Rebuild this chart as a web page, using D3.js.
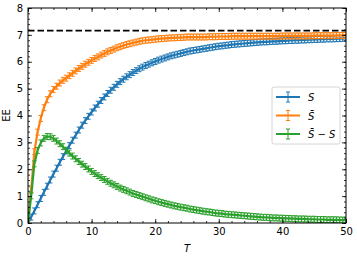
<!DOCTYPE html>
<html>
<head>
<meta charset="utf-8">
<script src="https://cdn.jsdelivr.net/npm/d3@7"></script>
<style>
  body { margin: 0; background: #fff; }
  text { font-family: "DejaVu Sans", sans-serif; }
</style>
</head>
<body>
<div class="chart"></div>
<script>
var svgWidth = 357;
var svgHeight = 257;

var margin = { top: 8, right: 11, bottom: 34, left: 28 };

var width = svgWidth - margin.left - margin.right;
var height = svgHeight - margin.top - margin.bottom;

// time grid (T)
var tValues = [0, 0.5, 1, 1.5, 2, 2.5, 3, 3.5, 4, 4.5, 5, 5.5, 6, 6.5, 7, 7.5, 8, 8.5, 9, 9.5,
  10, 10.5, 11, 11.5, 12, 12.5, 13, 13.5, 14, 14.5, 15, 15.5, 16, 16.5, 17, 17.5, 18, 18.5, 19, 19.5,
  20, 20.5, 21, 21.5, 22, 22.5, 23, 23.5, 24, 24.5, 25, 25.5, 26, 26.5, 27, 27.5, 28, 28.5, 29, 29.5,
  30, 30.5, 31, 31.5, 32, 32.5, 33, 33.5, 34, 34.5, 35, 35.5, 36, 36.5, 37, 37.5, 38, 38.5, 39, 39.5,
  40, 40.5, 41, 41.5, 42, 42.5, 43, 43.5, 44, 44.5, 45, 45.5, 46, 46.5, 47, 47.5, 48, 48.5, 49, 49.5, 50];

// S
var sValues = [0, 0.22, 0.45, 0.68, 0.91, 1.14, 1.37, 1.60, 1.82, 2.04, 2.26, 2.47, 2.68, 2.88, 3.08, 3.27, 3.46, 3.64, 3.81, 3.97,
  4.13, 4.28, 4.42, 4.56, 4.69, 4.82, 4.94, 5.05, 5.16, 5.26, 5.35, 5.44, 5.52, 5.60, 5.67, 5.74, 5.80, 5.86, 5.91, 5.96,
  6.01, 6.06, 6.10, 6.14, 6.18, 6.22, 6.25, 6.28, 6.31, 6.34, 6.37, 6.40, 6.42, 6.44, 6.46, 6.48, 6.50, 6.52, 6.54, 6.56,
  6.58, 6.59, 6.61, 6.62, 6.64, 6.65, 6.66, 6.67, 6.68, 6.69, 6.70, 6.71, 6.72, 6.73, 6.74, 6.74, 6.75, 6.76, 6.76, 6.77,
  6.78, 6.78, 6.79, 6.79, 6.80, 6.80, 6.81, 6.81, 6.82, 6.82, 6.83, 6.83, 6.84, 6.84, 6.85, 6.85, 6.85, 6.86, 6.86, 6.87, 6.87];

// S bar
var sBarValues = [0, 1.23, 2.65, 3.38, 3.89, 4.29, 4.59, 4.81, 4.97, 5.09, 5.21, 5.31, 5.39, 5.48, 5.57, 5.66, 5.75, 5.83, 5.91, 5.98,
  6.05, 6.12, 6.18, 6.25, 6.31, 6.37, 6.42, 6.47, 6.52, 6.56, 6.60, 6.64, 6.67, 6.70, 6.73, 6.76, 6.78, 6.80, 6.81, 6.82,
  6.84, 6.85, 6.86, 6.87, 6.88, 6.89, 6.89, 6.90, 6.90, 6.91, 6.92, 6.92, 6.92, 6.92, 6.92, 6.92, 6.92, 6.93, 6.93, 6.93,
  6.94, 6.94, 6.94, 6.94, 6.95, 6.95, 6.95, 6.95, 6.95, 6.95, 6.95, 6.95, 6.95, 6.95, 6.95, 6.95, 6.95, 6.95, 6.95, 6.95,
  6.96, 6.96, 6.96, 6.96, 6.96, 6.96, 6.96, 6.96, 6.96, 6.96, 6.97, 6.97, 6.97, 6.97, 6.97, 6.97, 6.97, 6.98, 6.98, 6.98, 6.98];

// S bar - S
var diffValues = [0, 1.01, 2.20, 2.70, 2.98, 3.15, 3.22, 3.21, 3.15, 3.05, 2.95, 2.84, 2.71, 2.60, 2.49, 2.39, 2.29, 2.19, 2.10, 2.01,
  1.92, 1.84, 1.76, 1.69, 1.62, 1.55, 1.48, 1.42, 1.36, 1.30, 1.25, 1.20, 1.15, 1.10, 1.06, 1.02, 0.98, 0.94, 0.90, 0.86,
  0.83, 0.79, 0.76, 0.73, 0.70, 0.67, 0.64, 0.62, 0.59, 0.57, 0.55, 0.52, 0.50, 0.48, 0.46, 0.44, 0.42, 0.41, 0.39, 0.37,
  0.36, 0.35, 0.33, 0.32, 0.31, 0.30, 0.29, 0.28, 0.27, 0.26, 0.25, 0.24, 0.23, 0.22, 0.21, 0.21, 0.20, 0.19, 0.19, 0.18,
  0.18, 0.17, 0.17, 0.16, 0.16, 0.15, 0.15, 0.15, 0.14, 0.14, 0.14, 0.13, 0.13, 0.13, 0.12, 0.12, 0.12, 0.12, 0.11, 0.11, 0.11];

var errValue = 0.11;
var limitValue = 7.16;

var xTicks = [0, 10, 20, 30, 40, 50];
var yTicks = [0, 1, 2, 3, 4, 5, 6, 7, 8];

var seriesList = [
  { name: "S", values: sValues, color: "#1f77b4" },
  { name: "Sbar", values: sBarValues, color: "#ff7f0e" },
  { name: "diff", values: diffValues, color: "#2ca02c" }
];

var svg = d3.select(".chart")
  .append("svg")
  .attr("width", svgWidth)
  .attr("height", svgHeight);

var chartGroup = svg.append("g")
  .attr("transform", `translate(${margin.left}, ${margin.top})`);

var xScale = d3.scaleLinear().domain([0, 50]).range([0, width]);
var yScale = d3.scaleLinear().domain([0, 8]).range([height, 0]);

svg.append("defs").append("clipPath")
  .attr("id", "plotClip")
  .append("rect")
  .attr("width", width)
  .attr("height", height);

var plotArea = chartGroup.append("g").attr("clip-path", "url(#plotClip)");

// dashed limit
plotArea.append("line")
  .attr("x1", 0)
  .attr("x2", width)
  .attr("y1", yScale(limitValue))
  .attr("y2", yScale(limitValue))
  .attr("stroke", "#000")
  .attr("stroke-width", 1.8)
  .attr("stroke-dasharray", "6.5,3");

var lineGen = d3.line()
  .x((d, i) => xScale(tValues[i]))
  .y(d => yScale(d));

seriesList.forEach(function(series) {
  var g = plotArea.append("g");

  g.append("path")
    .datum(series.values)
    .attr("fill", "none")
    .attr("stroke", series.color)
    .attr("stroke-width", 2.2)
    .attr("d", lineGen);

  var bars = g.selectAll(".bar")
    .data(series.values)
    .enter()
    .append("g")
    .attr("transform", (d, i) => `translate(${xScale(tValues[i])}, 0)`);

  bars.append("line")
    .attr("y1", d => yScale(d - errValue))
    .attr("y2", d => yScale(d + errValue))
    .attr("stroke", series.color)
    .attr("stroke-width", 1.2);

  bars.append("line")
    .attr("x1", -2.2)
    .attr("x2", 2.2)
    .attr("y1", d => yScale(d - errValue))
    .attr("y2", d => yScale(d - errValue))
    .attr("stroke", series.color)
    .attr("stroke-width", 1);

  bars.append("line")
    .attr("x1", -2.2)
    .attr("x2", 2.2)
    .attr("y1", d => yScale(d + errValue))
    .attr("y2", d => yScale(d + errValue))
    .attr("stroke", series.color)
    .attr("stroke-width", 1);
});

// axes with inward ticks on all sides
var xMinor = d3.range(0, 50.01, 2);
var yMinor = d3.range(0, 8.01, 0.2);

function styleAxis(g) {
  g.select(".domain").remove();
  g.selectAll("line").attr("stroke", "#000").attr("stroke-width", 0.8);
  g.selectAll("text").attr("font-size", 10).attr("fill", "#000");
}

chartGroup.append("g")
  .attr("transform", `translate(0, ${height})`)
  .call(d3.axisBottom(xScale).tickValues(xTicks).tickSize(-4).tickPadding(5))
  .call(styleAxis);
chartGroup.append("g")
  .attr("transform", `translate(0, ${height})`)
  .call(d3.axisBottom(xScale).tickValues(xMinor).tickSize(-2).tickFormat(""))
  .call(styleAxis);
chartGroup.append("g")
  .call(d3.axisTop(xScale).tickValues(xTicks).tickSize(-4).tickFormat(""))
  .call(styleAxis);
chartGroup.append("g")
  .call(d3.axisTop(xScale).tickValues(xMinor).tickSize(-2).tickFormat(""))
  .call(styleAxis);

chartGroup.append("g")
  .call(d3.axisLeft(yScale).tickValues(yTicks).tickSize(-4).tickPadding(5))
  .call(styleAxis);
chartGroup.append("g")
  .call(d3.axisLeft(yScale).tickValues(yMinor).tickSize(-2).tickFormat(""))
  .call(styleAxis);
chartGroup.append("g")
  .attr("transform", `translate(${width}, 0)`)
  .call(d3.axisRight(yScale).tickValues(yTicks).tickSize(-4).tickFormat(""))
  .call(styleAxis);
chartGroup.append("g")
  .attr("transform", `translate(${width}, 0)`)
  .call(d3.axisRight(yScale).tickValues(yMinor).tickSize(-2).tickFormat(""))
  .call(styleAxis);

// frame
chartGroup.append("rect")
  .attr("width", width)
  .attr("height", height)
  .attr("fill", "none")
  .attr("stroke", "#000")
  .attr("stroke-width", 1);

// axis labels
chartGroup.append("text")
  .attr("x", width / 2)
  .attr("y", height + 29)
  .attr("text-anchor", "middle")
  .attr("font-size", 10)
  .attr("font-style", "italic")
  .text("T");

chartGroup.append("text")
  .attr("transform", `translate(${-18}, ${height / 2}) rotate(-90)`)
  .attr("text-anchor", "middle")
  .attr("font-size", 10)
  .text("EE");

// legend
var legend = chartGroup.append("g")
  .attr("transform", `translate(${width - 74}, 79)`);

legend.append("rect")
  .attr("width", 68)
  .attr("height", 57)
  .attr("rx", 2)
  .attr("fill", "#fff")
  .attr("fill-opacity", 0.8)
  .attr("stroke", "#ccc")
  .attr("stroke-width", 0.8);

var legendLabels = [
  [{ t: "S", bar: false }],
  [{ t: "S", bar: true }],
  [{ t: "S", bar: true }, { t: " − ", bar: false, plain: true }, { t: "S", bar: false }]
];

seriesList.forEach(function(series, i) {
  var row = legend.append("g")
    .attr("transform", `translate(0, ${10 + i * 18.5})`);

  row.append("line")
    .attr("x1", 4).attr("x2", 28)
    .attr("stroke", series.color)
    .attr("stroke-width", 2);
  row.append("line")
    .attr("x1", 16).attr("x2", 16)
    .attr("y1", -5).attr("y2", 5)
    .attr("stroke", series.color)
    .attr("stroke-width", 1);
  row.append("line")
    .attr("x1", 14).attr("x2", 18)
    .attr("y1", -5).attr("y2", -5)
    .attr("stroke", series.color);
  row.append("line")
    .attr("x1", 14).attr("x2", 18)
    .attr("y1", 5).attr("y2", 5)
    .attr("stroke", series.color);

  var txt = row.append("text")
    .attr("x", 36)
    .attr("y", 4)
    .attr("font-size", 10);
  legendLabels[i].forEach(function(part) {
    var content = part.t + (part.bar ? "\u0304" : "");
    txt.append("tspan")
      .attr("font-style", part.plain ? "normal" : "italic")
      .text(content);
  });
});
</script>
</body>
</html>
